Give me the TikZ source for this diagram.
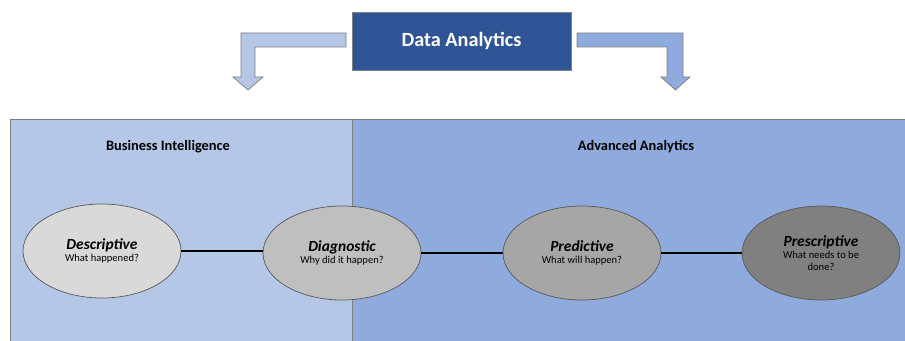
\documentclass[tikz,border=0pt]{standalone}
\usepackage{fontspec}
\setmainfont{Carlito}
\usetikzlibrary{shapes.geometric}

\definecolor{daBlue}{HTML}{2F5597}
\definecolor{biBlue}{HTML}{B4C7E7}
\definecolor{aaBlue}{HTML}{8FAADC}
\definecolor{edgeGray}{HTML}{7F7F7F}

\newcommand{\stagename}[1]{{\fontsize{8.8}{9.5}\selectfont\bfseries\itshape #1}}

\begin{document}
\begin{tikzpicture}[x=0.02cm,y=-0.02cm,
    stage/.style={ellipse, draw=black!65, thin, inner sep=0pt,
        minimum width=3.16cm, minimum height=1.88cm, align=center,
        font=\fontsize{6}{7}\selectfont},
    link/.style={line width=1.3pt, black},
    heading/.style={font=\fontsize{8.2}{9}\selectfont\bfseries}]

  \useasboundingbox (0,0) rectangle (905,341);

  % --- background panels -----------------------------------------
  \fill[biBlue] (10,119) rectangle (352,341);
  \fill[aaBlue] (352,119) rectangle (905,341);
  \draw[edgeGray] (10,341) -- (10,119) -- (905,119);
  \draw[edgeGray] (352,119) -- (352,341);

  \node[heading] (bi) at (168,147) {Business Intelligence};
  \node[heading] (aa) at (636,147) {Advanced Analytics};

  % --- top box and bent arrows -----------------------------------
  \node[fill=daBlue, draw=edgeGray, text=white, minimum width=4.38cm,
        minimum height=1.16cm, font=\fontsize{11.5}{13}\selectfont\bfseries]
        (da) at (461.5,41) {Data Analytics};

  \draw[edgeGray, fill=biBlue] (346,33) -- (241,33) -- (241,77) -- (233,77)
        -- (248,90) -- (263,77) -- (255,77) -- (255,47) -- (346,47) -- cycle;
  \draw[edgeGray, fill=aaBlue] (577,33) -- (683,33) -- (683,77) -- (690,77)
        -- (675.5,90) -- (661,77) -- (667,77) -- (667,47) -- (577,47) -- cycle;

  % --- analytics stages ------------------------------------------
  \node[stage, fill=black!15] (desc) at (102,251)
        {\stagename{Descriptive}\\What happened?};
  \node[stage, fill=black!25] (diag) at (342,253)
        {\stagename{Diagnostic}\\Why did it happen?};
  \node[stage, fill=black!35] (pred) at (582,253)
        {\stagename{Predictive}\\What will happen?};
  \node[stage, fill=black!50] (pres) at (821,253)
        {\stagename{Prescriptive}\\What needs to be\\done?};

  \draw[link] (desc.east) -- (desc.east -| diag.west);
  \draw[link] (diag) -- (pred);
  \draw[link] (pred) -- (pres);

\end{tikzpicture}
\end{document}
